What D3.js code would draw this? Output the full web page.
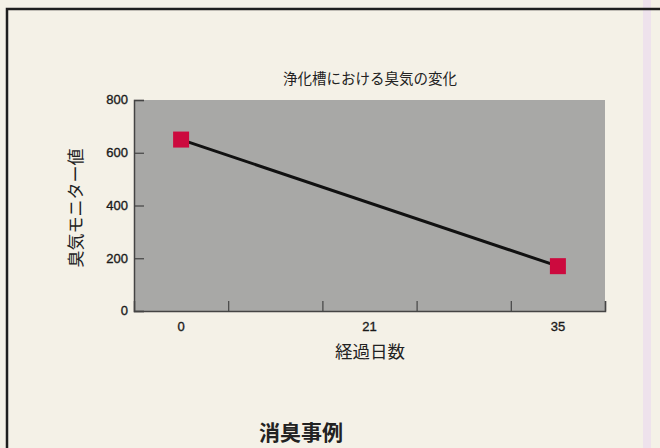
<!DOCTYPE html>
<meta charset="utf-8">
<style>
  body { margin: 0; background: #f4f1e7; }
  text { font-family: "Noto Sans CJK JP", sans-serif; fill: #222; }
  .num { font-family: "Liberation Sans", Arial, sans-serif; font-size: 13px; fill: #1a1a1a; stroke: #1a1a1a; stroke-width: 0.35px; }
</style>
<body>
<script src="https://d3js.org/d3.v7.min.js"></script>
<script>

// x slots along the axis (only some carry a label)
var slotLabels = ["0", "", "21", "", "35"];
// measured points: day -> odour monitor value
var days = ["0", "35"];
var odor = [650, 170];
var yTicks = [0, 200, 400, 600, 800];

var W = 660, H = 448;
var plot = {left: 134, right: 605, top: 100, bottom: 311};

var svg = d3.select("body").append("svg")
    .attr("width", W)
    .attr("height", H);

// paper
svg.append("rect").attr("width", W).attr("height", H).attr("fill", "#f4f1e7");
// faint coloured strip at the right edge of the scan
svg.append("rect")
    .attr("x", 643).attr("y", 0).attr("width", 8).attr("height", H)
    .attr("fill", "#ecdeed").attr("opacity", 0.8);
// frame
svg.append("rect")
    .attr("x", 7).attr("y", 9).attr("width", 720).attr("height", 520)
    .attr("fill", "none").attr("stroke", "#1e1e1e").attr("stroke-width", 2.5);

var x = d3.scaleBand()
    .domain(d3.range(slotLabels.length))
    .range([plot.left, plot.right])
    .padding(0);

var xEdge = d3.scaleLinear()
    .domain([0, slotLabels.length])
    .range([plot.left, plot.right]);

var y = d3.scaleLinear()
    .domain([0, 800])
    .range([plot.bottom, plot.top]);

// grey plot area
svg.append("rect")
    .attr("x", plot.left).attr("y", y(800))
    .attr("width", plot.right - plot.left).attr("height", y(0) - y(800))
    .attr("fill", "#a8a8a6");

// y axis (ticks pointing inward)
var yAxis = svg.append("g")
    .attr("transform", "translate(" + plot.left + ",0)")
    .call(d3.axisLeft(y).tickValues(yTicks).tickSize(-10).tickPadding(6));
yAxis.select(".domain").attr("stroke", "#444").attr("stroke-width", 1.5);
yAxis.selectAll(".tick line").attr("stroke", "#444").attr("stroke-width", 1.2);
yAxis.selectAll(".tick text").attr("class", "num").attr("dy", "0.3em");

// x axis: tick marks on slot edges, pointing up
var xAxis = svg.append("g")
    .attr("transform", "translate(0," + plot.bottom + ")")
    .call(d3.axisBottom(xEdge).tickValues(d3.range(1, slotLabels.length + 1)).tickSize(-10).tickFormat(""));
xAxis.select(".domain").attr("stroke", "#444").attr("stroke-width", 1.5);
xAxis.selectAll(".tick line").attr("stroke", "#444").attr("stroke-width", 1.2);

// x labels at slot centres
svg.selectAll(".xlab")
  .data(slotLabels)
  .enter()
  .append("text")
    .attr("class", "num")
    .attr("x", function(d, i){ return x(i) + x.bandwidth() / 2 })
    .attr("y", plot.bottom + 20)
    .attr("text-anchor", "middle")
    .text(function(d){ return d });

// data
var pts = days.map(function(d, i){
  return {x: x(slotLabels.indexOf(d)) + x.bandwidth() / 2, y: y(odor[i])};
});

svg.append("path")
    .datum(pts)
    .attr("d", d3.line().x(function(d){ return d.x }).y(function(d){ return d.y }))
    .attr("stroke", "#111")
    .attr("stroke-width", 3)
    .attr("fill", "none");

var sq = 16;
svg.selectAll(".pt")
  .data(pts)
  .enter()
  .append("rect")
    .attr("x", function(d){ return d.x - sq / 2 })
    .attr("y", function(d){ return d.y - sq / 2 })
    .attr("width", sq).attr("height", sq)
    .attr("fill", "#cc0a3e");

// titles
svg.append("text")
    .attr("x", 370).attr("y", 84)
    .attr("text-anchor", "middle")
    .style("font-size", "14.5px")
    .text("浄化槽における臭気の変化");

svg.append("text")
    .attr("transform", "translate(82," + 208 + ") rotate(-90)")
    .attr("text-anchor", "middle")
    .style("font-size", "17px")
    .text("臭気モニター値");

svg.append("text")
    .attr("x", 370).attr("y", 358)
    .attr("text-anchor", "middle")
    .style("font-size", "17.5px")
    .text("経過日数");

svg.append("text")
    .attr("x", 301).attr("y", 440)
    .attr("text-anchor", "middle")
    .style("font-size", "21px")
    .style("font-weight", "bold")
    .text("消臭事例");

</script>
</body>
